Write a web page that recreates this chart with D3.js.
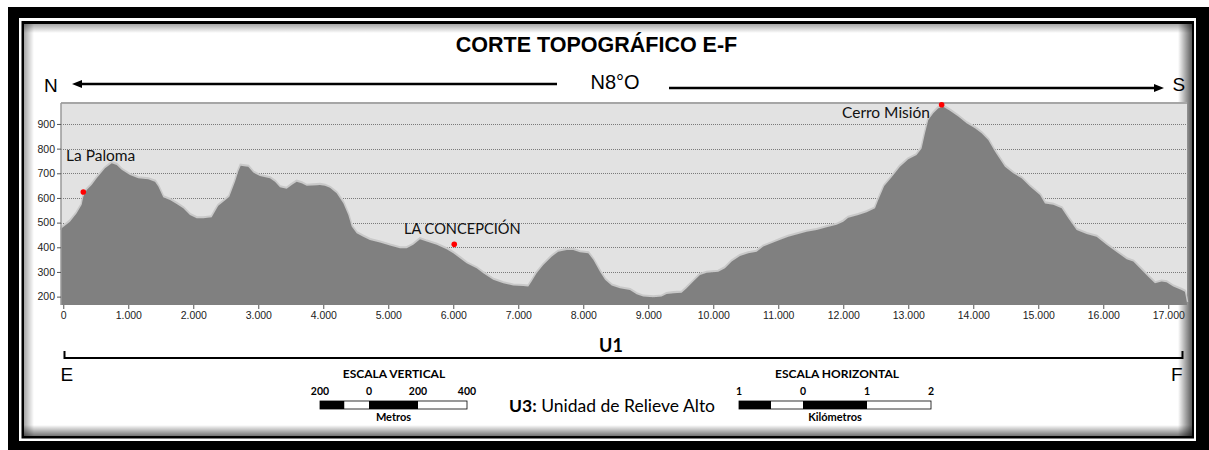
<!DOCTYPE html>
<html>
<head>
<meta charset="utf-8">
<script src="https://cdn.jsdelivr.net/npm/d3@7/dist/d3.min.js"></script>
<style>
  html, body { margin: 0; padding: 0; background: #fff; }
  svg { display: block; }
</style>
</head>
<body>
<svg id="chart" width="1209" height="450"></svg>
<script>
// Perfil topográfico E-F: distancia (m) y cota (m s.n.m.)
const distancias = [
  -35, -25, 103, 206, 283, 308, 360, 437, 514, 642, 745, 822, 898, 1026, 1154, 1308,
  1411, 1462, 1538, 1642, 1745, 1846, 1949, 2052, 2154, 2283, 2334, 2385, 2462, 2554,
  2642, 2692, 2729, 2846, 2923, 3026, 3180, 3257, 3334, 3437, 3514, 3591, 3668, 3745,
  3898, 3949, 4026, 4103, 4206, 4308, 4385, 4437, 4514, 4615, 4718, 4872, 5026, 5180,
  5283, 5385, 5488, 5591, 5745, 5898, 6000, 6103, 6206, 6360, 6462, 6615, 6769, 6923,
  7077, 7154, 7205, 7282, 7385, 7513, 7615, 7744, 7846, 7949, 8077, 8154, 8257, 8335,
  8437, 8565, 8718, 8821, 8923, 9077, 9205, 9282, 9385, 9513, 9590, 9692, 9795, 9898,
  10077, 10180, 10283, 10411, 10538, 10667, 10769, 10923, 11052, 11154, 11308, 11436,
  11590, 11744, 11898, 12000, 12077, 12231, 12360, 12488, 12538, 12630, 12744, 12872,
  13000, 13128, 13205, 13257, 13308, 13385, 13462, 13538, 13641, 13769, 13897, 14026,
  14128, 14230, 14333, 14487, 14615, 14744, 14872, 15026, 15103, 15231, 15360, 15462,
  15590, 15744, 15897, 16051, 16231, 16360, 16462, 16590, 16692, 16795, 16897, 16974,
  17077, 17205, 17256, 17288
];
const elevaciones = [
  467, 477, 504, 538, 572, 605, 632, 653, 680, 720, 741, 734, 714, 693, 680, 676,
  666, 646, 603, 592, 576, 558, 531, 518, 518, 522, 545, 568, 585, 605,
  666, 707, 731, 727, 703, 689, 680, 666, 643, 637, 653, 666, 660, 649,
  652, 653, 649, 641, 619, 579, 531, 484, 457, 443, 430, 419, 407, 396,
  396, 410, 433, 423, 410, 392, 376, 356, 335, 315, 295, 268, 254, 245,
  243, 241, 261, 295, 328, 362, 382, 389, 389, 380, 376, 349, 301, 268,
  245, 234, 227, 210, 200, 197, 200, 211, 214, 216, 234, 261, 288, 297,
  301, 315, 342, 365, 376, 382, 403, 419, 433, 443, 454, 463,
  470, 481, 491, 504, 520, 531, 542, 558, 592, 648, 684, 727,
  757, 774, 801, 862, 916, 943, 964, 970, 954, 930, 903, 883,
  862, 835, 788, 727, 700, 680, 646, 612, 578, 572, 558, 518,
  470, 454, 443, 410, 376, 352, 342, 308, 281, 254, 261, 258,
  241, 227, 220, 175
];

const ticksCota = [200, 300, 400, 500, 600, 700, 800, 900];
const ticksDistancia = d3.range(0, 17001, 1000);

// Localidades marcadas sobre el perfil
const lugares = ["La Paloma", "LA CONCEPCIÓN", "Cerro Misión"];
const lugaresDist = [308, 6015, 13513];
const lugaresCota = [624, 412, 978];

// Escalas gráficas
const escalaVertEtiquetas = ["200", "0", "200", "400"];
const escalaVertValores = [-200, 0, 200, 400];
const escalaVertCortes = [-200, -100, 0, 200, 400];
const escalaHorEtiquetas = ["1", "0", "1", "2"];
const escalaHorValores = [-1, 0, 1, 2];
const escalaHorCortes = [-1, -0.5, 0, 1, 2];

const svg = d3.select("#chart");
const W = 1209, H = 450;
const SANS = "'Liberation Sans', Arial, sans-serif";
const CAL = "Lato, 'Open Sans', sans-serif";

// ---- Marco ----
svg.append("rect").attr("width", W).attr("height", H).attr("fill", "#fff");
svg.append("rect").attr("x", 8).attr("y", 7).attr("width", W - 8).attr("height", H - 7).attr("fill", "#000");
svg.append("rect").attr("x", 19).attr("y", 18).attr("width", 1196 - 19).attr("height", 441 - 18).attr("fill", "#fff");
svg.append("rect").attr("x", 21.5).attr("y", 21).attr("width", 1194 - 21.5).attr("height", 438.5 - 21).attr("fill", "#000");
const panel = { x0: 24, y0: 24, x1: 1192, y1: 436 };
svg.append("rect").attr("x", panel.x0).attr("y", panel.y0)
  .attr("width", panel.x1 - panel.x0).attr("height", panel.y1 - panel.y0).attr("fill", "#fff");

// sombra interior del panel
const defs = svg.append("defs");
function grad(id, x1, y1, x2, y2, op) {
  const g = defs.append("linearGradient").attr("id", id)
    .attr("x1", x1).attr("y1", y1).attr("x2", x2).attr("y2", y2);
  g.append("stop").attr("offset", "0").attr("stop-color", "#000").attr("stop-opacity", op);
  g.append("stop").attr("offset", "1").attr("stop-color", "#000").attr("stop-opacity", 0);
}
grad("shL", 0, 0, 1, 0, 0.35);
grad("shT", 0, 0, 0, 1, 0.35);
grad("shR", 1, 0, 0, 0, 0.65);
grad("shB", 0, 1, 0, 0, 0.55);
svg.append("rect").attr("x", panel.x0).attr("y", panel.y0).attr("width", 10).attr("height", panel.y1 - panel.y0).attr("fill", "url(#shL)");
svg.append("rect").attr("x", panel.x0).attr("y", panel.y0).attr("width", panel.x1 - panel.x0).attr("height", 9).attr("fill", "url(#shT)");
svg.append("rect").attr("x", panel.x1 - 14).attr("y", panel.y0).attr("width", 14).attr("height", panel.y1 - panel.y0).attr("fill", "url(#shR)");
svg.append("rect").attr("x", panel.x0).attr("y", panel.y1 - 11).attr("width", panel.x1 - panel.x0).attr("height", 11).attr("fill", "url(#shB)");

// ---- Títulos y orientación ----
svg.append("text").attr("x", 596.5).attr("y", 51.5).attr("text-anchor", "middle")
  .attr("font-family", SANS).attr("font-weight", "bold").attr("font-size", 21.5)
  .text("CORTE TOPOGRÁFICO E-F");
svg.append("text").attr("x", 615).attr("y", 89.3).attr("text-anchor", "middle")
  .attr("font-family", SANS).attr("font-size", 20).text("N8°O");
svg.append("text").attr("x", 44).attr("y", 91.5).attr("font-family", SANS).attr("font-size", 19).text("N");
svg.append("text").attr("x", 1172.5).attr("y", 90.7).attr("font-family", SANS).attr("font-size", 19).text("S");

function flecha(xCola, xPunta, y) {
  const dir = Math.sign(xPunta - xCola);
  svg.append("line").attr("x1", xCola).attr("x2", xPunta - dir * 6).attr("y1", y).attr("y2", y)
    .attr("stroke", "#000").attr("stroke-width", 2.5);
  svg.append("path")
    .attr("d", `M${xPunta},${y} L${xPunta - dir * 10},${y - 4} L${xPunta - dir * 10},${y + 4} Z`)
    .attr("fill", "#000");
}
flecha(557, 72, 84);
flecha(669, 1164, 88);

// ---- Área del gráfico ----
const plot = { x0: 61, x1: 1187, y0: 103, y1: 305 };
const x = d3.scaleLinear().domain([-35, 17288]).range([plot.x0, plot.x1]);
const y = d3.scaleLinear().domain([166, 985]).range([plot.y1, plot.y0]);

svg.append("rect").attr("x", plot.x0).attr("y", plot.y0)
  .attr("width", plot.x1 - plot.x0).attr("height", plot.y1 - plot.y0).attr("fill", "#e2e2e2");

// líneas de cuadrícula punteadas
svg.append("g").selectAll("line").data(ticksCota).join("line")
  .attr("x1", plot.x0).attr("x2", plot.x1)
  .attr("y1", d => Math.round(y(d)) + 0.5).attr("y2", d => Math.round(y(d)) + 0.5)
  .attr("stroke", "#7a7a7a").attr("stroke-width", 1).attr("stroke-dasharray", "1,1");

const perfil = distancias.map((d, i) => [d, elevaciones[i]]);

// contorno claro bajo el relleno
svg.append("path").datum(perfil)
  .attr("d", d3.line().x(d => x(d[0])).y(d => y(d[1]) - 0.8))
  .attr("fill", "none").attr("stroke", "#c9c9c9").attr("stroke-width", 2.5);

svg.append("path").datum(perfil)
  .attr("d", d3.area().x(d => x(d[0])).y0(plot.y1).y1(d => y(d[1])))
  .attr("fill", "#808080");

// bordes superior e izquierdo
svg.append("line").attr("x1", plot.x0).attr("x2", plot.x1).attr("y1", plot.y0).attr("y2", plot.y0)
  .attr("stroke", "#a6a6a6").attr("stroke-width", 2);
svg.append("line").attr("x1", plot.x0).attr("x2", plot.x0).attr("y1", plot.y0).attr("y2", plot.y1)
  .attr("stroke", "#9a9a9a").attr("stroke-width", 1.5);

// ejes
const fmtEs = d3.formatLocale({ decimal: ",", thousands: ".", grouping: [3], currency: ["$", ""] }).format(",d");

const ejeY = svg.append("g").attr("transform", `translate(${plot.x0},0)`)
  .call(d3.axisLeft(y).tickValues(ticksCota).tickSize(4).tickPadding(2));
ejeY.select(".domain").remove();
ejeY.selectAll("line").attr("stroke", "#555");
ejeY.selectAll("text").attr("font-family", SANS).attr("font-size", 10.5).attr("fill", "#222");

const ejeX = svg.append("g").attr("transform", `translate(0,${plot.y1})`)
  .call(d3.axisBottom(x).tickValues(ticksDistancia).tickFormat(fmtEs).tickSize(4).tickPadding(3));
ejeX.select(".domain").remove();
ejeX.selectAll("line").attr("stroke", "#555");
ejeX.selectAll("text").attr("font-family", SANS).attr("font-size", 10.5).attr("fill", "#222");

// localidades
svg.append("g").selectAll("circle").data(lugares).join("circle")
  .attr("cx", (d, i) => x(lugaresDist[i])).attr("cy", (d, i) => y(lugaresCota[i]))
  .attr("r", 2.8).attr("fill", "#ff0000");
const etiquetaPos = [
  { x: 66, y: 161, anchor: "start", size: 15.5 },
  { x: 404, y: 234, anchor: "start", size: 14.6 },
  { x: 930, y: 118, anchor: "end", size: 15.5 }
];
svg.append("g").selectAll("text").data(lugares).join("text")
  .attr("x", (d, i) => etiquetaPos[i].x).attr("y", (d, i) => etiquetaPos[i].y)
  .attr("text-anchor", (d, i) => etiquetaPos[i].anchor)
  .attr("font-family", CAL).attr("font-size", (d, i) => etiquetaPos[i].size).attr("fill", "#111")
  .text(d => d);

// ---- Unidad U1 ----
svg.append("path").attr("d", `M64.5,351 V358 H1182.5 V351`)
  .attr("fill", "none").attr("stroke", "#000").attr("stroke-width", 2);
svg.append("text").attr("x", 611).attr("y", 351.5).attr("text-anchor", "middle")
  .attr("font-family", CAL).attr("font-weight", "bold").attr("font-size", 18).text("U1");
svg.append("text").attr("x", 60.5).attr("y", 381).attr("font-family", SANS).attr("font-size", 19).text("E");
svg.append("text").attr("x", 1171).attr("y", 381).attr("font-family", SANS).attr("font-size", 19).text("F");

// ---- Escalas gráficas ----
function escala(titulo, unidad, cortes, valores, etiquetas, rango, cx) {
  const s = d3.scaleLinear().domain([cortes[0], cortes[cortes.length - 1]]).range(rango);
  const g = svg.append("g");
  g.append("text").attr("x", cx).attr("y", 378).attr("text-anchor", "middle")
    .attr("font-family", CAL).attr("font-weight", "bold").attr("font-size", 12).text(titulo);
  g.selectAll("rect.seg").data(d3.pairs(cortes)).join("rect").attr("class", "seg")
    .attr("x", d => s(d[0])).attr("y", 401).attr("width", d => s(d[1]) - s(d[0])).attr("height", 8)
    .attr("fill", (d, i) => i % 2 === 0 ? "#000" : "#fff");
  g.append("rect").attr("x", rango[0]).attr("y", 401).attr("width", rango[1] - rango[0]).attr("height", 8)
    .attr("fill", "none").attr("stroke", "#000").attr("stroke-width", 0.8);
  g.selectAll("text.num").data(etiquetas).join("text").attr("class", "num")
    .attr("x", (d, i) => s(valores[i])).attr("y", 395).attr("text-anchor", "middle")
    .attr("font-family", CAL).attr("font-weight", "bold").attr("font-size", 10.5).text(d => d);
  g.append("text").attr("x", (rango[0] + rango[1]) / 2).attr("y", 421).attr("text-anchor", "middle")
    .attr("font-family", CAL).attr("font-weight", "bold").attr("font-size", 11).text(unidad);
}
escala("ESCALA VERTICAL", "Metros", escalaVertCortes, escalaVertValores, escalaVertEtiquetas, [320, 467], 394);
escala("ESCALA HORIZONTAL", "Kilómetros", escalaHorCortes, escalaHorValores, escalaHorEtiquetas, [739, 931], 837);

const u3 = svg.append("text").attr("x", 509).attr("y", 411.5).attr("font-family", CAL).attr("font-size", 17.5);
u3.append("tspan").attr("font-weight", "bold").text("U3:");
u3.append("tspan").text(" Unidad de Relieve Alto");
</script>
</body>
</html>
